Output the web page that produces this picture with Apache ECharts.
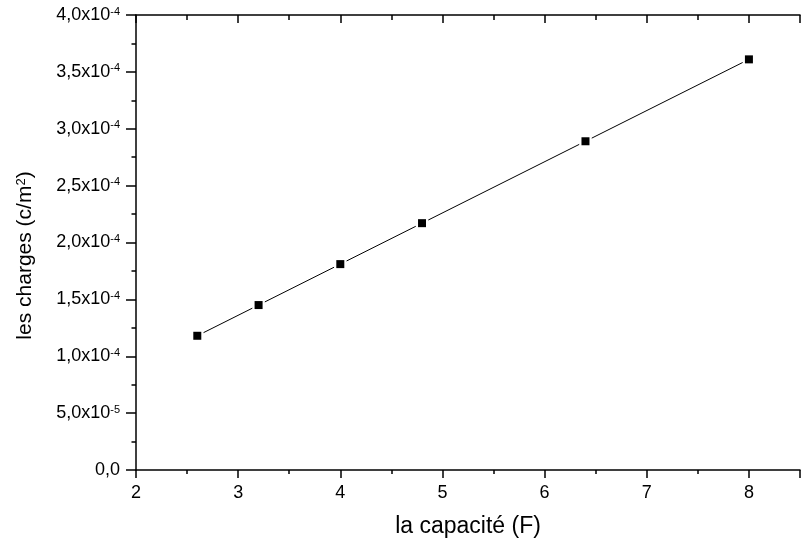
<!DOCTYPE html>
<html>
<head>
<meta charset="utf-8">
<script src="https://cdn.jsdelivr.net/npm/echarts@6/dist/echarts.min.js"></script>
<style>
html,body{margin:0;padding:0;background:#fff;}
#chart{width:803px;height:543px;}
</style>
</head>
<body>
<div id="chart"></div>
<script>
// valeurs
var capacite = [2.6, 3.2, 4.0, 4.8, 6.4, 8.0];          // F
var charges  = [1.18e-4, 1.45e-4, 1.81e-4, 2.17e-4, 2.89e-4, 3.61e-4]; // c/m2
var xTicks = [2, 3, 4, 5, 6, 7, 8];
var yTickStep = 0.5e-4;

var FONT = 'Liberation Sans, Arial, sans-serif';

// 1,5x10^-4 style labels
function sciLabel(v) {
    if (Math.abs(v) < 1e-12) return '0,0';
    var e = Math.floor(Math.log10(v) + 1e-9);
    var m = (v / Math.pow(10, e)).toFixed(1).replace('.', ',');
    return m + 'x10{sup|' + e + '}';
}

var points = capacite.map(function (c, i) { return [c, charges[i]]; });
// segments between points (line stops short of the squares, like Origin does)
var segments = [];
for (var i = 0; i < points.length - 1; i++) {
    segments.push([points[i][0], points[i][1], points[i + 1][0], points[i + 1][1]]);
}

var myChart = echarts.init(document.getElementById('chart'));
var axisLine = {show: true, lineStyle: {color: '#000', width: 1.5}};

myChart.setOption({
    backgroundColor: '#fff',
    animation: false,
    grid: {left: 136, top: 15, right: -9, bottom: 72, containLabel: false},
    xAxis: [{
        type: 'value',
        min: 2, max: 8.5, interval: 1,
        position: 'bottom',
        name: 'la capacité (F)',
        nameLocation: 'middle',
        nameGap: 45,
        nameTextStyle: {fontFamily: FONT, fontSize: 23, color: '#000'},
        axisLine: axisLine,
        axisTick: {show: true, inside: false, length: 8, lineStyle: {color: '#000', width: 1.5}},
        minorTick: {show: true, splitNumber: 2, length: 4, lineStyle: {color: '#000', width: 1.5}},
        axisLabel: {
            fontFamily: FONT, fontSize: 18, color: '#000', margin: 14,
            formatter: function (v) { return xTicks.indexOf(v) >= 0 ? String(v) : ''; }
        },
        splitLine: {show: false}
    }, {
        type: 'value',
        min: 2, max: 8.5, interval: 1,
        position: 'top',
        axisLine: axisLine,
        axisTick: {show: true, inside: true, length: 8, lineStyle: {color: '#000', width: 1.5}},
        minorTick: {show: true, splitNumber: 2, length: 5, lineStyle: {color: '#000', width: 1.5}},
        axisLabel: {show: false},
        splitLine: {show: false}
    }],
    yAxis: {
        type: 'value',
        min: 0, max: 4e-4, interval: yTickStep,
        name: 'les charges (c/m{sup|2})',
        nameLocation: 'middle',
        nameGap: 100,
        nameRotate: 90,
        nameTextStyle: {
            fontFamily: FONT, fontSize: 21, color: '#000',
            padding: [0, 26, 0, 0],
            rich: {sup: {fontFamily: FONT, fontSize: 13, verticalAlign: 'top', lineHeight: 14, color: '#000'}}
        },
        axisLine: axisLine,
        axisTick: {show: true, inside: false, length: 10, lineStyle: {color: '#000', width: 1.5}},
        minorTick: {show: true, splitNumber: 2, length: 4.5, lineStyle: {color: '#000', width: 1.5}},
        axisLabel: {
            fontFamily: FONT, fontSize: 18, color: '#000', margin: 16,
            formatter: sciLabel,
            rich: {sup: {fontFamily: FONT, fontSize: 11, verticalAlign: 'top', lineHeight: 12, color: '#000'}}
        },
        splitLine: {show: false}
    },
    series: [{
        type: 'custom',
        data: segments,
        encode: {x: [0, 2], y: [1, 3]},
        clip: false,
        renderItem: function (params, api) {
            var a = api.coord([api.value(0), api.value(1)]);
            var b = api.coord([api.value(2), api.value(3)]);
            var dx = b[0] - a[0], dy = b[1] - a[1];
            var len = Math.sqrt(dx * dx + dy * dy);
            var gap = 7 / len;
            return {
                type: 'line',
                shape: {
                    x1: a[0] + dx * gap, y1: a[1] + dy * gap,
                    x2: b[0] - dx * gap, y2: b[1] - dy * gap
                },
                style: {stroke: '#000', lineWidth: 1}
            };
        }
    }, {
        type: 'scatter',
        data: points,
        symbol: 'rect',
        symbolSize: 8,
        itemStyle: {color: '#000', opacity: 1},
        clip: false
    }]
});
</script>
</body>
</html>
